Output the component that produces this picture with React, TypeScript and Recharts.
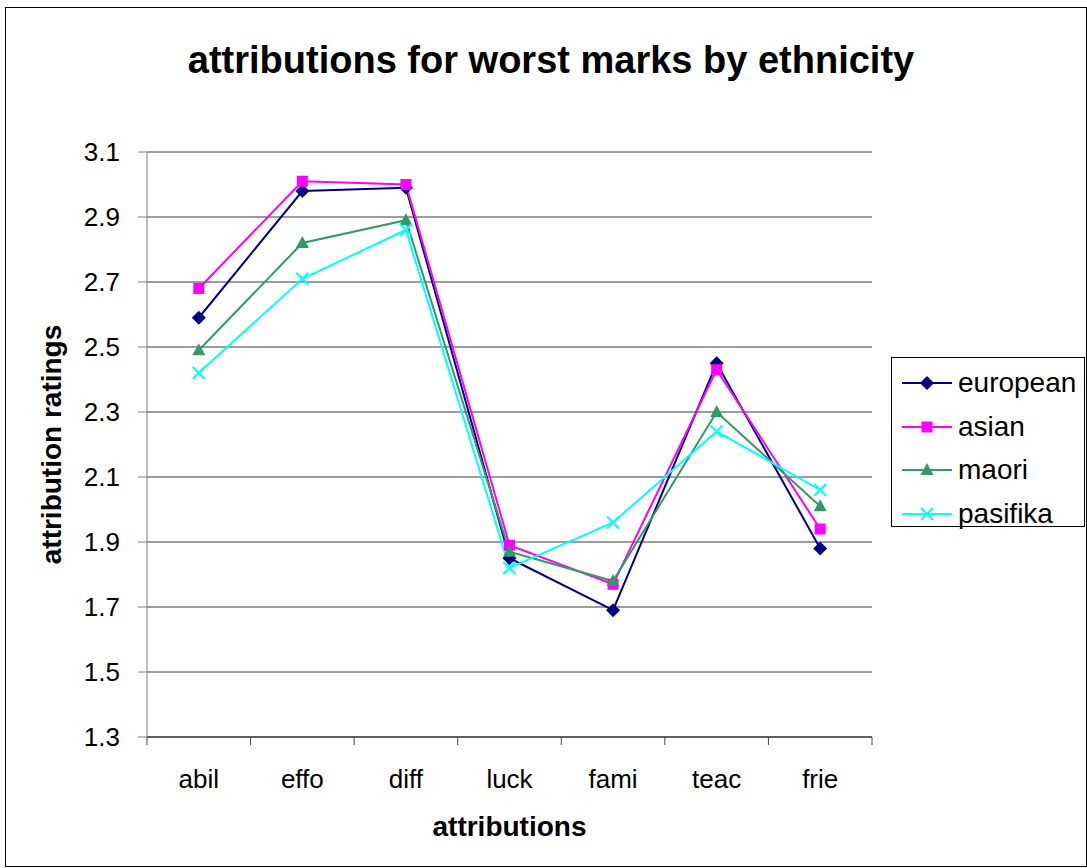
import React from 'react';
import { LineChart, Line, XAxis, YAxis, CartesianGrid, Legend } from 'recharts';

const CATEGORIES = ['abil', 'effo', 'diff', 'luck', 'fami', 'teac', 'frie'];
const EUROPEAN = [2.59, 2.98, 2.99, 1.85, 1.69, 2.45, 1.88];
const ASIAN = [2.68, 3.01, 3.0, 1.89, 1.77, 2.43, 1.94];
const MAORI = [2.49, 2.82, 2.89, 1.87, 1.78, 2.3, 2.01];
const PASIFIKA = [2.42, 2.71, 2.86, 1.82, 1.96, 2.24, 2.06];
const Y_TICKS = [1.3, 1.5, 1.7, 1.9, 2.1, 2.3, 2.5, 2.7, 2.9, 3.1];

const SERIES = [
  { key: 'european', values: EUROPEAN, color: '#000080', shape: 'diamond' },
  { key: 'asian', values: ASIAN, color: '#FF00FF', shape: 'square' },
  { key: 'maori', values: MAORI, color: '#339966', shape: 'triangle' },
  { key: 'pasifika', values: PASIFIKA, color: '#00FFFF', shape: 'cross' },
];

const data = CATEGORIES.map((c, i) => {
  const row: Record<string, any> = { name: c };
  SERIES.forEach((s) => (row[s.key] = s.values[i]));
  return row;
});

const FONT = 'Arial, "Liberation Sans", sans-serif';
const HALF_BAND = 725 / 14;

function Marker({ cx, cy, shape, color }: any) {
  if (cx == null || cy == null) return null;
  if (shape === 'diamond') {
    return <path d={`M${cx},${cy - 7}L${cx + 7},${cy}L${cx},${cy + 7}L${cx - 7},${cy}Z`} fill={color} />;
  }
  if (shape === 'square') {
    return <rect x={cx - 5.5} y={cy - 5.5} width={11} height={11} fill={color} />;
  }
  if (shape === 'triangle') {
    return <path d={`M${cx},${cy - 7}L${cx + 6.5},${cy + 5}L${cx - 6.5},${cy + 5}Z`} fill={color} />;
  }
  return (
    <g stroke={color} strokeWidth={2}>
      <line x1={cx - 6} y1={cy - 6} x2={cx + 6} y2={cy + 6} />
      <line x1={cx - 6} y1={cy + 6} x2={cx + 6} y2={cy - 6} />
    </g>
  );
}

function CategoryTick(props: any) {
  const { x, y, payload, index } = props;
  return (
    <g>
      <line x1={x - HALF_BAND} x2={x - HALF_BAND} y1={y} y2={y + 8} stroke="#444" />
      {index === CATEGORIES.length - 1 && (
        <line x1={x + HALF_BAND} x2={x + HALF_BAND} y1={y} y2={y + 8} stroke="#444" />
      )}
      <text x={x} y={y + 51} textAnchor="middle" fontSize={26} fontFamily={FONT} fill="#000">
        {payload.value}
      </text>
    </g>
  );
}

function LegendBox() {
  return (
    <div
      style={{
        width: 194,
        height: 170,
        boxSizing: 'border-box',
        border: '1.5px solid #000',
        background: '#fff',
        paddingTop: 3,
        fontFamily: FONT,
      }}
    >
      {SERIES.map((s) => (
        <div key={s.key} style={{ height: 43.7, display: 'flex', alignItems: 'center', paddingLeft: 10 }}>
          <svg width={50} height={20}>
            <line x1={0} x2={50} y1={10} y2={10} stroke={s.color} strokeWidth={2} />
            <Marker cx={25} cy={10} shape={s.shape} color={s.color} />
          </svg>
          <span style={{ fontSize: 28, marginLeft: 6, color: '#000' }}>{s.key}</span>
        </div>
      ))}
    </div>
  );
}

export default function App() {
  return (
    <div style={{ position: 'absolute', left: 0, top: 0, width: 1087, height: 868, background: '#fff' }}>
      <div
        style={{
          position: 'absolute',
          left: 5,
          top: 7,
          width: 1082,
          height: 860,
          boxSizing: 'border-box',
          border: '1.5px solid #000',
        }}
      />
      <div
        style={{
          position: 'absolute',
          left: 551,
          top: 41,
          transform: 'translateX(-50%)',
          whiteSpace: 'nowrap',
          fontFamily: FONT,
          fontWeight: 'bold',
          fontSize: 38,
          lineHeight: '38px',
          color: '#000',
        }}
      >
        attributions for worst marks by ethnicity
      </div>
      <div style={{ position: 'absolute', left: 0, top: 0 }}>
        <LineChart width={1087} height={868} data={data} margin={{ top: 152, right: 215, bottom: 1, left: 0 }}>
          <CartesianGrid horizontal vertical={false} stroke="#3a3a3a" />
          <XAxis
            dataKey="name"
            height={130}
            padding={{ left: HALF_BAND, right: HALF_BAND }}
            axisLine={{ stroke: '#222' }}
            tickLine={false}
            tickSize={0}
            tickMargin={0}
            interval={0}
            tick={<CategoryTick />}
            label={{
              content: ({ viewBox }: any) => (
                <text
                  x={viewBox.x + viewBox.width / 2}
                  y={viewBox.y + 99}
                  textAnchor="middle"
                  fontSize={28}
                  fontWeight="bold"
                  fontFamily={FONT}
                  fill="#000"
                >
                  attributions
                </text>
              ),
            }}
          />
          <YAxis
            width={147}
            domain={[1.3, 3.1]}
            ticks={Y_TICKS}
            interval={0}
            tickFormatter={(v: number) => v.toFixed(1)}
            axisLine={{ stroke: '#808080' }}
            tickLine={{ stroke: '#808080' }}
            tickSize={9}
            tickMargin={18}
            tick={{ fontSize: 26, fontFamily: FONT, fill: '#000' }}
            label={{
              content: ({ viewBox }: any) => {
                const cy = viewBox.y + viewBox.height / 2;
                return (
                  <text
                    x={61}
                    y={cy}
                    transform={`rotate(-90, 61, ${cy})`}
                    textAnchor="middle"
                    fontSize={28}
                    fontWeight="bold"
                    fontFamily={FONT}
                    fill="#000"
                  >
                    attribution ratings
                  </text>
                );
              },
            }}
          />
          <Legend
            layout="vertical"
            align="center"
            verticalAlign="middle"
            content={() => <LegendBox />}
            wrapperStyle={{ position: 'absolute', left: 891, top: 357, width: 194, height: 170 }}
          />
          {SERIES.map((s) => (
            <Line
              key={s.key}
              dataKey={s.key}
              stroke={s.color}
              strokeWidth={2}
              isAnimationActive={false}
              dot={(p: any) => <Marker key={`${s.key}-${p.index}`} cx={p.cx} cy={p.cy} shape={s.shape} color={s.color} />}
              activeDot={false}
            />
          ))}
        </LineChart>
      </div>
    </div>
  );
}
